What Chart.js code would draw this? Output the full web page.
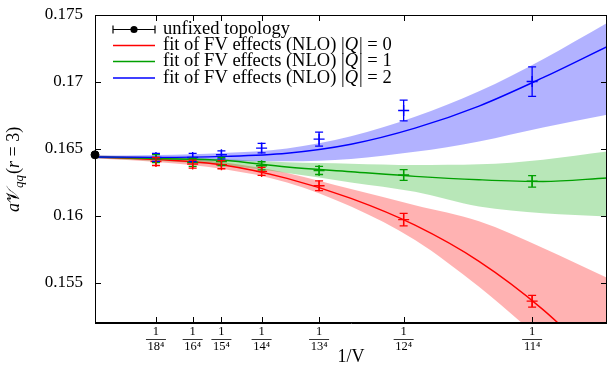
<!DOCTYPE html>
<html>
<head>
<meta charset="utf-8">
<script src="https://cdn.jsdelivr.net/npm/chart.js@4.4.1/dist/chart.umd.min.js"></script>
<style>
  html, body { margin: 0; padding: 0; background: #fff; }
  #wrap { width: 607px; height: 369px; }
</style>
</head>
<body>
<div id="wrap"><canvas id="potChart" width="607" height="369"></canvas></div>
<script>
// lattice sizes L, ticks sit at 1/L^4
const tickNs = [18, 16, 15, 14, 13, 12, 11];
const latticeX = tickNs.map(n => 1 / Math.pow(n, 4));
const yTicks = [0.155, 0.16, 0.165, 0.17, 0.175];

// measured values at each lattice size
const q0Vals = [0.16406, 0.16387, 0.16382, 0.16332, 0.16225, 0.15972, 0.15363];
const q0Errs = [0.0003, 0.0003, 0.0003, 0.0003, 0.00037, 0.00047, 0.00044];
const q1Vals = [0.16427, 0.16400, 0.16406, 0.16374, 0.16339, 0.16305, 0.16258];
const q1Errs = [0.0003, 0.0003, 0.0003, 0.0003, 0.0003, 0.0004, 0.00043];
const q2Vals = [0.16436, 0.16436, 0.16456, 0.16506, 0.16573, 0.16787, 0.17003];
const q2Errs = [0.0003, 0.0003, 0.0003, 0.00035, 0.00052, 0.00078, 0.0011];

// unfixed topology (infinite volume)
const unfixedX = [0];
const unfixedY = [0.16456];
const unfixedErr = [0.0001];

const fitX = [0, 1e-5, 2e-5, 3e-5, 4e-5, 5e-5, 6e-5, 7e-5, 8e-5];
const q0Fit = [0.16440, 0.16420, 0.16380, 0.16280, 0.16130, 0.15930, 0.15660, 0.15300, 0.14850];
const q0Lo  = [0.16430, 0.16400, 0.16350, 0.16250, 0.16070, 0.15820, 0.15470, 0.15070, 0.14720];
const q0Hi  = [0.16450, 0.16435, 0.16400, 0.16320, 0.16200, 0.16080, 0.15960, 0.15760, 0.15537];
const q1Fit = [0.16440, 0.16428, 0.16415, 0.16365, 0.16330, 0.16295, 0.16270, 0.16257, 0.16283];
const q1Lo  = [0.16430, 0.16410, 0.16380, 0.16320, 0.16250, 0.16180, 0.16070, 0.16020, 0.15996];
const q1Hi  = [0.16450, 0.16440, 0.16425, 0.16400, 0.16390, 0.16380, 0.16385, 0.16420, 0.16481];
const q2Fit = [0.16440, 0.16437, 0.16444, 0.16468, 0.16535, 0.16655, 0.16820, 0.17032, 0.17264];
const q2Lo  = [0.16430, 0.16422, 0.16412, 0.16407, 0.16425, 0.16478, 0.16556, 0.16660, 0.16755];
const q2Hi  = [0.16450, 0.16455, 0.16470, 0.16504, 0.16595, 0.16740, 0.16930, 0.17170, 0.17440];

const RED = '#ff0000', GREEN = '#00a000', BLUE = '#0000ff';
const SERIF = '"Liberation Serif", "DejaVu Serif", serif';

function pts(xs, ys) {
  return xs.map((x, i) => ({ x: x, y: ys[i] }));
}

function band(hi, lo, color) {
  return [
    { data: pts(fitX, hi), borderWidth: 0, pointRadius: 0, fill: '+1',
      backgroundColor: color, cubicInterpolationMode: 'monotone', order: 10 },
    { data: pts(fitX, lo), borderWidth: 0, pointRadius: 0, fill: false,
      cubicInterpolationMode: 'monotone', order: 10 }
  ];
}

function fitLine(vals, color) {
  return { data: pts(fitX, vals), borderColor: color, borderWidth: 1.4, pointRadius: 0,
    fill: false, cubicInterpolationMode: 'monotone', order: 5 };
}

function measured(vals, errs, color) {
  return { data: pts(latticeX, vals), errs: errs, showLine: false, pointStyle: 'cross',
    pointRadius: 5.5, pointBorderWidth: 1.4, borderColor: color, backgroundColor: color, order: 1 };
}

// vertical error bars with caps
const errorBars = {
  id: 'errorBars',
  afterDatasetsDraw(chart) {
    const ctx = chart.ctx, ys = chart.scales.y, xs = chart.scales.x;
    chart.data.datasets.forEach(ds => {
      if (!ds.errs) return;
      ctx.save();
      ctx.strokeStyle = ds.borderColor;
      ctx.lineWidth = 1.3;
      ds.data.forEach((p, i) => {
        const px = xs.getPixelForValue(p.x);
        const y1 = ys.getPixelForValue(p.y - ds.errs[i]);
        const y2 = ys.getPixelForValue(p.y + ds.errs[i]);
        ctx.beginPath();
        ctx.moveTo(px, y1); ctx.lineTo(px, y2);
        ctx.moveTo(px - 4, y1); ctx.lineTo(px + 4, y1);
        ctx.moveTo(px - 4, y2); ctx.lineTo(px + 4, y2);
        ctx.stroke();
      });
      ctx.restore();
    });
  }
};

// gnuplot style frame: inward ticks on all four sides, fraction bars, legend, y title
const frame = {
  id: 'frame',
  afterDraw(chart) {
    const ctx = chart.ctx, a = chart.chartArea;
    const xs = chart.scales.x, ys = chart.scales.y;
    ctx.save();
    ctx.strokeStyle = '#000';
    ctx.lineWidth = 1;
    ctx.strokeRect(a.left + 0.5, a.top + 0.5, a.right - a.left - 1, a.bottom - a.top - 1);
    ctx.beginPath();
    yTicks.forEach(v => {
      const py = Math.round(ys.getPixelForValue(v)) + 0.5;
      ctx.moveTo(a.left, py); ctx.lineTo(a.left + 6, py);
      ctx.moveTo(a.right, py); ctx.lineTo(a.right - 6, py);
    });
    latticeX.forEach(v => {
      const px = Math.round(xs.getPixelForValue(v)) + 0.5;
      ctx.moveTo(px, a.bottom); ctx.lineTo(px, a.bottom - 6);
      ctx.moveTo(px, a.top); ctx.lineTo(px, a.top + 6);
    });
    ctx.stroke();

    // fraction bars under the "1"
    ctx.lineWidth = 0.8;
    ctx.beginPath();
    latticeX.forEach(v => {
      const px = xs.getPixelForValue(v);
      ctx.moveTo(px - 10, 339.5); ctx.lineTo(px + 10, 339.5);
    });
    ctx.stroke();

    // legend
    const lx0 = 113, lx1 = 155, tx = 163;
    const rows = [29.5, 45.5, 61.5, 78];
    ctx.lineWidth = 1.2;
    ctx.beginPath();
    ctx.moveTo(lx0, rows[0]); ctx.lineTo(lx1, rows[0]);
    ctx.moveTo(lx0, rows[0] - 4); ctx.lineTo(lx0, rows[0] + 4);
    ctx.moveTo(lx1, rows[0] - 4); ctx.lineTo(lx1, rows[0] + 4);
    ctx.stroke();
    ctx.fillStyle = '#000';
    ctx.beginPath();
    ctx.arc((lx0 + lx1) / 2, rows[0], 3.6, 0, Math.PI * 2);
    ctx.fill();
    ctx.textBaseline = 'middle';
    ctx.font = '18.5px ' + SERIF;
    ctx.fillText('unfixed topology', tx, rows[0]);
    [RED, GREEN, BLUE].forEach((c, i) => {
      const y = rows[i + 1];
      ctx.strokeStyle = c;
      ctx.lineWidth = 1.4;
      ctx.beginPath();
      ctx.moveTo(lx0, y); ctx.lineTo(lx1, y);
      ctx.stroke();
      ctx.fillStyle = '#000';
      let x = tx;
      ctx.font = '18.5px ' + SERIF;
      const s1 = 'fit of FV effects (NLO) |';
      ctx.fillText(s1, x, y);
      x += ctx.measureText(s1).width;
      ctx.font = 'italic 18.5px ' + SERIF;
      ctx.fillText('Q', x, y);
      x += ctx.measureText('Q').width + 1;
      ctx.font = '18.5px ' + SERIF;
      ctx.fillText('| = ' + i, x, y);
    });

    // y axis title: a V_qq(r = 3)
    ctx.translate(19, 212);
    ctx.rotate(-Math.PI / 2);
    ctx.fillStyle = '#000';
    ctx.textBaseline = 'alphabetic';
    let x = 0;
    const part = (txt, font, dy) => {
      ctx.font = font;
      ctx.fillText(txt, x, dy);
      x += ctx.measureText(txt).width;
    };
    part('a', 'italic 18px ' + SERIF, 0);
    part('\u{1D4B1}', '18px "DejaVu Serif", "DejaVu Sans", serif', 0);
    part('qq', 'italic 13px ' + SERIF, 4);
    x += 1;
    part('(', '18px ' + SERIF, 0);
    part('r', 'italic 18px ' + SERIF, 0);
    part(' = 3)', '18px ' + SERIF, 0);
    ctx.restore();
  }
};

Chart.defaults.font.family = SERIF;
Chart.defaults.color = '#000';

const ctx = document.getElementById('potChart').getContext('2d');
new Chart(ctx, {
  type: 'line',
  data: {
    datasets: [
      ...band(q2Hi, q2Lo, 'rgba(0,0,255,0.3)'),
      ...band(q1Hi, q1Lo, 'rgba(0,170,0,0.28)'),
      ...band(q0Hi, q0Lo, 'rgba(255,0,0,0.3)'),
      fitLine(q2Fit, BLUE),
      fitLine(q1Fit, GREEN),
      fitLine(q0Fit, RED),
      measured(q2Vals, q2Errs, BLUE),
      measured(q1Vals, q1Errs, GREEN),
      measured(q0Vals, q0Errs, RED),
      { data: pts(unfixedX, unfixedY), errs: unfixedErr, showLine: false, pointStyle: 'circle',
        pointRadius: 4, borderColor: '#000', backgroundColor: '#000', order: 0, clip: false }
    ]
  },
  options: {
    responsive: false,
    animation: false,
    layout: { autoPadding: false, padding: { top: 15, right: 0, left: 0, bottom: 0 } },
    plugins: { legend: { display: false }, tooltip: { enabled: false } },
    scales: {
      x: {
        type: 'linear', min: 0, max: 8e-5,
        afterBuildTicks: s => { s.ticks = latticeX.map(v => ({ value: v })); },
        afterFit: s => { s.height = 46; s.paddingLeft = 0; s.paddingRight = 0; },
        grid: { drawOnChartArea: false, drawTicks: false },
        border: { color: '#000' },
        ticks: {
          padding: 1, maxRotation: 0, autoSkip: false,
          font: { size: 12.5, lineHeight: 1.2 },
          callback: (v, i) => ['1', tickNs[i] + '\u2074']
        },
        title: { display: true, text: '1/V', font: { size: 18 }, padding: { top: 0, bottom: 1 } }
      },
      y: {
        min: 0.152, max: 0.175,
        afterBuildTicks: s => { s.ticks = yTicks.map(v => ({ value: v })); },
        afterFit: s => { s.width = 95; s.paddingTop = 0; s.paddingBottom = 0; },
        grid: { drawOnChartArea: false, drawTicks: false },
        border: { color: '#000' },
        ticks: { padding: 12, font: { size: 17 }, callback: v => String(+v.toFixed(3)) }
      }
    }
  },
  plugins: [errorBars, frame]
});
</script>
</body>
</html>
